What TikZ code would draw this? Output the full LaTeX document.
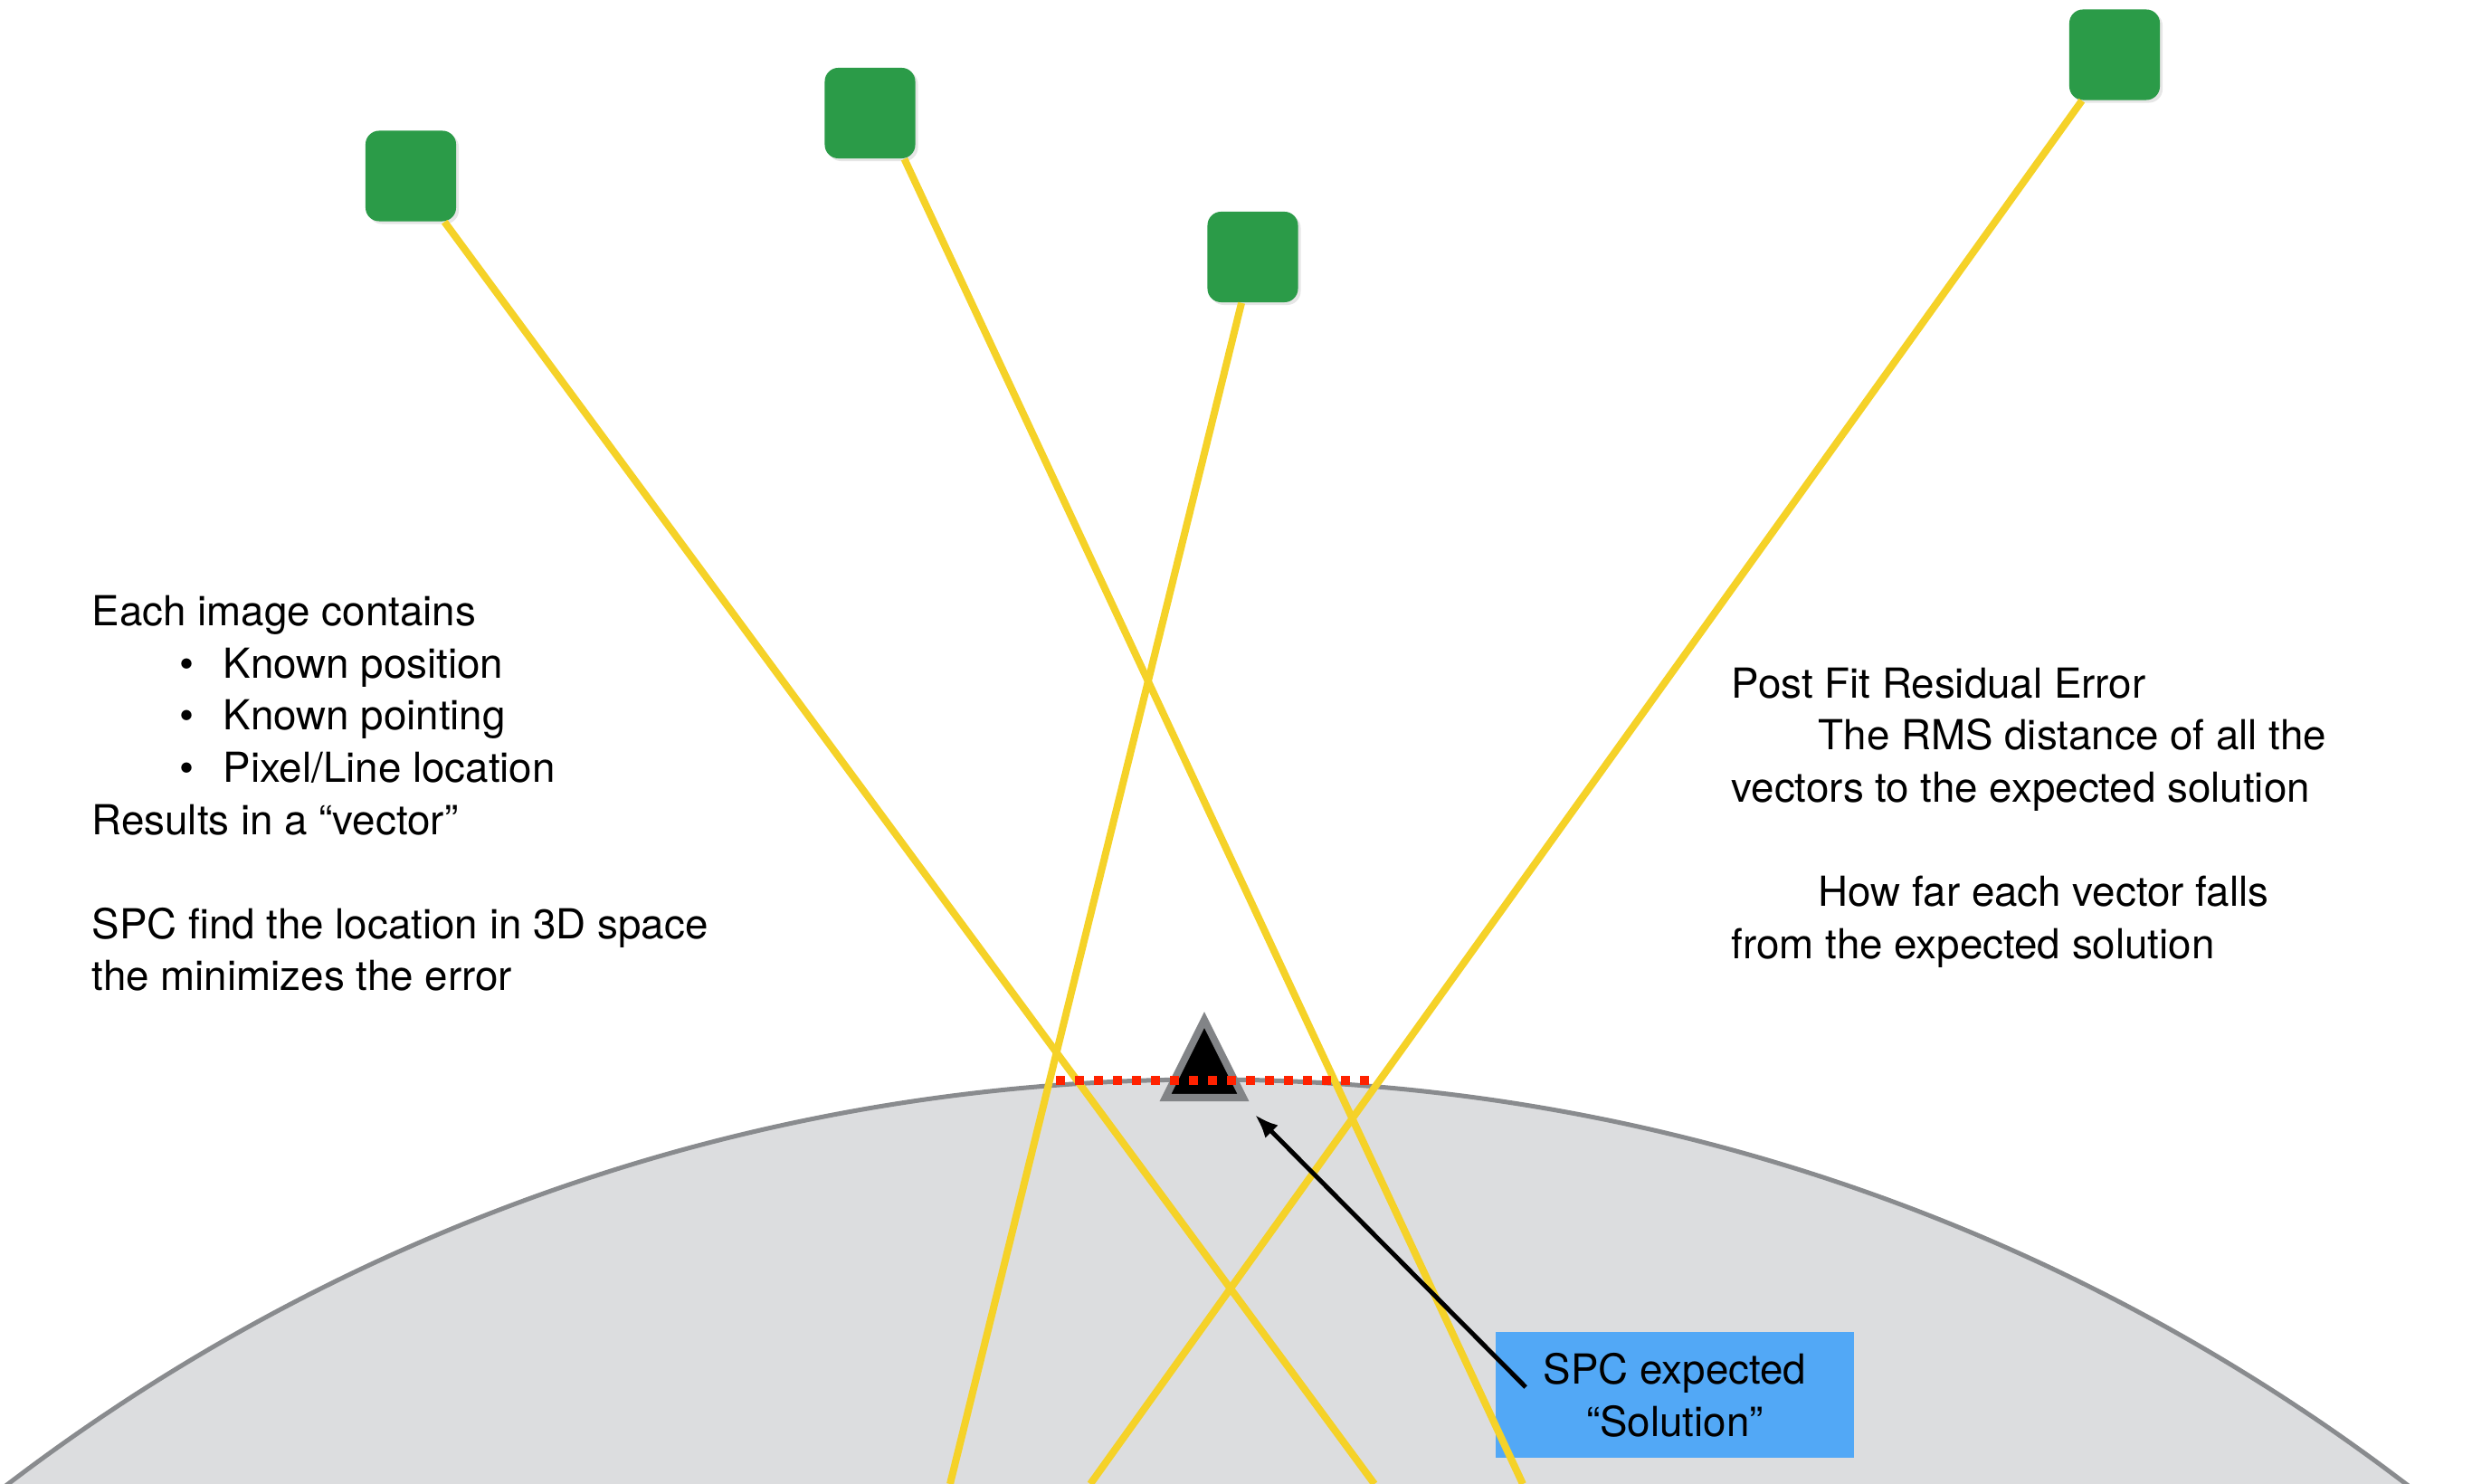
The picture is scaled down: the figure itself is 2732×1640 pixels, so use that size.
\documentclass[tikz,border=0pt]{standalone}
\usepackage{fontspec}
\setmainfont{TeX Gyre Heros}
\usetikzlibrary{arrows.meta, shadows, calc, positioning}

\definecolor{cubegreen}{RGB}{43,155,72}
\definecolor{raygold}{RGB}{245,210,40}
\definecolor{groundgray}{RGB}{220,221,223}
\definecolor{rimgray}{RGB}{137,139,142}
\definecolor{labelblue}{RGB}{82,168,246}
\definecolor{residred}{RGB}{255,34,0}

\tikzset{
	camera/.style={fill=cubegreen, rounded corners=0.15cm, minimum size=1cm, inner sep=0pt,
		drop shadow={opacity=0.2, shadow xshift=0.03cm, shadow yshift=-0.03cm}},
	ray/.style={draw=raygold, line width=0.08cm},
	txt/.style={anchor=base west, inner sep=0pt, font=\fontsize{13pt}{16.4pt}\selectfont},
}

\begin{document}
\begin{tikzpicture}[x=0.01cm, y=-0.01cm]
		\useasboundingbox (0,0) rectangle (2732,1640);
		\clip (0,0) rectangle (2732,1640);
		
		% ground
		\draw[fill=groundgray, draw=rimgray, line width=0.05cm] (1334,3380) circle [radius=2187];
		
		\node[fill=labelblue, minimum width=3.96cm, minimum height=1.39cm, inner sep=0pt, align=center,
			font=\fontsize{13pt}{16.4pt}\selectfont] (sol) at (1851,1541.5) {SPC expected\\“Solution”};
		
		% images
		\node[camera] (s1) at (454,194.5) {};
		\node[camera] (s2) at (961.5,125) {};
		\node[camera] (s3) at (1384.5,284) {};
		\node[camera] (s4) at (2337,60.5) {};
		
		\coordinate (g1) at (1519,1640);
		\coordinate (g2) at (1683,1640);
		\coordinate (g3) at (1050,1640);
		\coordinate (g4) at (1205,1640);
		
		\draw[ray] (s1) -- (g1);
		\draw[ray] ($(s2.south)+(38,0)$) -- (g2);
		\draw[ray] (s3) -- (g3);
		\draw[ray] (s4) -- (g4);
		
		% solution
		\draw[fill=black, draw=rimgray!95!black, line width=0.08cm] (1331,1127) -- (1374,1213) -- (1288,1213) -- cycle;
		\draw[residred, line width=0.1cm, dash pattern=on 0.1cm off 0.11cm] (1167,1194) -- (1513,1194);
		
		\coordinate (tip) at (1387,1232);
		\draw[-{Latex[length=0.26cm,width=0.2cm]}, line width=0.05cm] ($(sol.west)+(34,-8.5)$) -- (tip);
		
		\path (101,692) node[txt] (each) {Each image contains}
			(246,750) node[txt] (pos) {\llap{\textbullet\hspace{0.32cm}}Known position}
			(246,807) node[txt] (pnt) {\llap{\textbullet\hspace{0.32cm}}Known pointing}
			(246,865) node[txt] (pix) {\llap{\textbullet\hspace{0.32cm}}Pixel/Line location}
			(101,923) node[txt] (res) {Results in a “vector”}
			(101,1038) node[txt] (spc) {SPC find the location in 3D space}
			(101,1095) node[txt] (mini) {the minimizes the error};
		
		\path (1913,772) node[txt] (post) {Post Fit Residual Error}
			(2009,829) node[txt] (rms) {The RMS distance of all the}
			(1913,887) node[txt] (vec) {vectors to the expected solution}
			(2009,1002) node[txt] (far) {How far each vector falls}
			(1913,1060) node[txt] (from) {from the expected solution};
	\end{tikzpicture}
\end{document}
